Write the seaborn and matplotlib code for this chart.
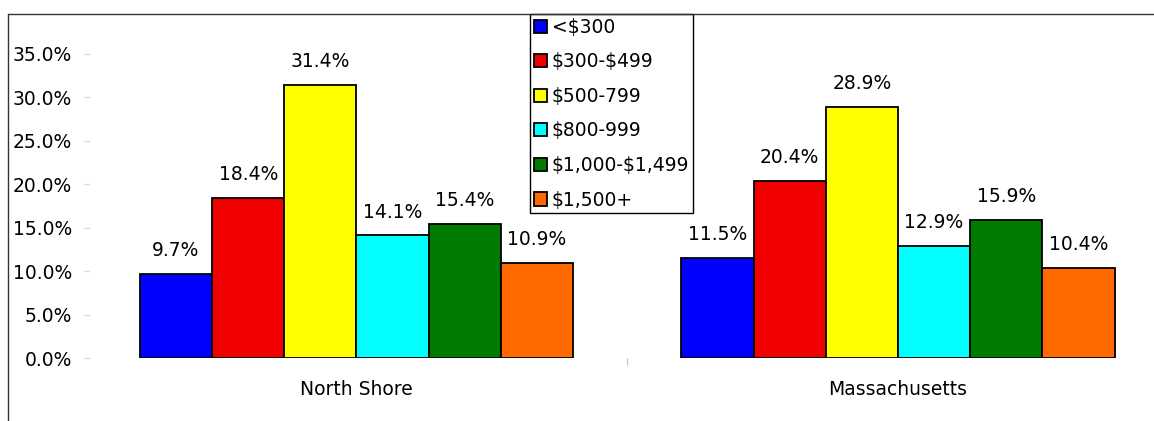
import matplotlib
matplotlib.use("Agg")
import matplotlib.pyplot as plt
from matplotlib.lines import Line2D
import seaborn as sns
import pandas as pd

regions = ["North Shore", "Massachusetts"]
categories = ["<$300", "$300-$499", "$500-799", "$800-999", "$1,000-$1,499", "$1,500+"]
north_shore = [9.7, 18.4, 31.4, 14.1, 15.4, 10.9]
massachusetts = [11.5, 20.4, 28.9, 12.9, 15.9, 10.4]
colors = ["#0000FF", "#F20000", "#FFFF00", "#00FFFF", "#007A00", "#FF6A00"]
yticks = [0, 5, 10, 15, 20, 25, 30, 35]

rows = []
for reg, vals in zip(regions, [north_shore, massachusetts]):
    for cat, v in zip(categories, vals):
        rows.append({"region": reg, "category": cat, "value": v})
df = pd.DataFrame(rows)

sns.set_style("white")
plt.rcParams["font.family"] = ["DejaVu Sans"]
plt.rcParams["text.parse_math"] = False
plt.rcParams["text.color"] = "black"
plt.rcParams["xtick.labelcolor"] = "black"
plt.rcParams["ytick.labelcolor"] = "black"
FS = 13.5

W_PX, H_PX = 1154, 421
fig = plt.figure(figsize=(W_PX / 100, H_PX / 100), dpi=100)

px_per_unit = 8.69
y0_px = 358
ytop = 37
ax_left_px, ax_right_px = 90, 1150
ax = fig.add_axes([ax_left_px / W_PX, 1 - y0_px / H_PX,
                   (ax_right_px - ax_left_px) / W_PX, ytop * px_per_unit / H_PX])

sns.barplot(data=df, x="region", y="value", hue="category", hue_order=categories,
            order=regions, palette=colors, saturation=1, width=0.8,
            edgecolor="black", linewidth=1.3, ax=ax, legend=True)

c0, scale = 356.5, 541.5
ax.set_xlim((ax_left_px - c0) / scale, (ax_right_px - c0) / scale)
ax.set_ylim(0, ytop)

for s in ax.spines.values():
    s.set_visible(False)

ax.set_yticks(yticks)
ax.set_yticklabels([f"{t:.1f}%" for t in yticks], fontsize=FS, color="black")
ax.tick_params(axis="y", length=4, width=1, color="#dcdcdc", pad=9, left=True)
ax.set_xticks([0, 1])
ax.set_xticklabels(regions, fontsize=FS, color="black")
ax.tick_params(axis="x", length=0, pad=16)
ax.set_xticks([0.5], minor=True)
ax.tick_params(axis="x", which="minor", length=5, width=1, color="#c8c8c8", bottom=True)
ax.set_xlabel("")
ax.set_ylabel("")

for cont in ax.containers:
    ax.bar_label(cont, fmt="%.1f%%", padding=10, fontsize=FS, color="black")

handles, labels = ax.get_legend_handles_labels()
for h in handles:
    try:
        h.set_edgecolor("black")
        h.set_linewidth(1.3)
    except Exception:
        pass
leg = ax.legend(handles, labels, loc="upper left",
                bbox_to_anchor=(530 / W_PX, 1 - 14 / H_PX), bbox_transform=fig.transFigure,
                borderaxespad=0, frameon=True, fancybox=False, framealpha=1,
                edgecolor="black", fontsize=FS, handlelength=0.7, handleheight=0.7,
                handletextpad=0.25, labelspacing=0.83, borderpad=0.2)
leg.get_frame().set_linewidth(1.0)
for t in leg.get_texts():
    t.set_color("black")

top_y = 1 - 14 / H_PX
left_x = 8 / W_PX
fig.add_artist(Line2D([left_x, 1], [top_y, top_y], transform=fig.transFigure,
                      color="#333333", linewidth=1))
fig.add_artist(Line2D([left_x, left_x], [0, top_y], transform=fig.transFigure,
                      color="#333333", linewidth=1))

fig.savefig("out.png", dpi=100)
